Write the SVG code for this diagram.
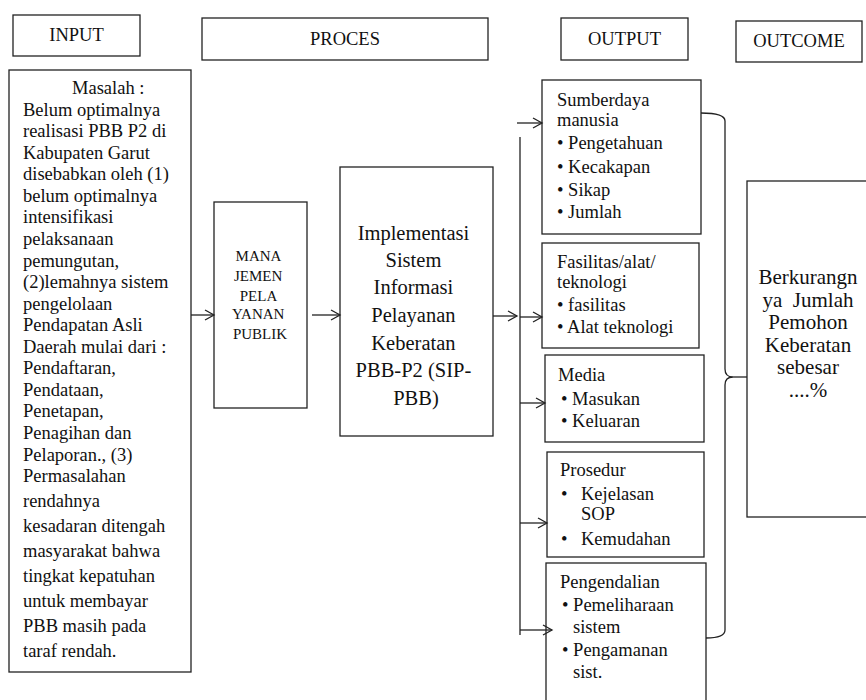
<svg xmlns="http://www.w3.org/2000/svg" width="866" height="700" viewBox="0 0 866 700">
<defs>
<style>
.box{fill:#fff;stroke:#222;stroke-width:1.3}
.t{font-family:"Liberation Serif","Times New Roman",serif;fill:#111}
.h{font-size:18.5px;text-anchor:middle}
.in{font-size:18.5px}
.mj{font-size:15px;text-anchor:middle}
.ct{font-size:20.5px;text-anchor:middle}
.o{font-size:18.5px}
.oc{font-size:21px;text-anchor:middle}
.ln{fill:none;stroke:#222;stroke-width:1.3}
</style>
<marker id="ah" markerUnits="userSpaceOnUse" markerWidth="12" markerHeight="12" refX="10" refY="6" orient="auto">
<path d="M1,1 L10,6 L1,11" fill="none" stroke="#222" stroke-width="1.3"/>
</marker>
</defs>
<rect width="866" height="700" fill="#fff"/>

<g id="hdr-input"><rect class="box" x="13" y="15" width="127" height="41"/><text class="t h" x="76.5" y="41">INPUT</text></g>
<g id="hdr-proces"><rect class="box" x="202" y="18" width="286" height="42"/><text class="t h" x="345" y="45">PROCES</text></g>
<g id="hdr-output"><rect class="box" x="561" y="18" width="127" height="42"/><text class="t h" x="624.5" y="45">OUTPUT</text></g>
<g id="hdr-outcome"><rect class="box" x="736" y="21" width="126" height="41"/><text class="t h" x="799" y="47">OUTCOME</text></g>

<g id="input">
<rect class="box" x="9" y="70" width="182" height="602"/>
<text class="t in">
<tspan x="72" y="94">Masalah :</tspan>
<tspan x="23" y="115.6">Belum optimalnya</tspan>
<tspan x="23" y="137.1">realisasi PBB P2 di</tspan>
<tspan x="23" y="158.7">Kabupaten Garut</tspan>
<tspan x="23" y="180.2">disebabkan oleh (1)</tspan>
<tspan x="23" y="201.8">belum optimalnya</tspan>
<tspan x="23" y="223.4">intensifikasi</tspan>
<tspan x="23" y="244.9">pelaksanaan</tspan>
<tspan x="23" y="266.5">pemungutan,</tspan>
<tspan x="23" y="288">(2)lemahnya sistem</tspan>
<tspan x="23" y="309.6">pengelolaan</tspan>
<tspan x="23" y="331.2">Pendapatan Asli</tspan>
<tspan x="23" y="352.7">Daerah mulai dari :</tspan>
<tspan x="23" y="374.3">Pendaftaran,</tspan>
<tspan x="23" y="395.8">Pendataan,</tspan>
<tspan x="23" y="417.4">Penetapan,</tspan>
<tspan x="23" y="439">Penagihan dan</tspan>
<tspan x="23" y="460.5">Pelaporan., (3)</tspan>
<tspan x="23" y="482">Permasalahan</tspan>
<tspan x="23" y="507">rendahnya</tspan>
<tspan x="23" y="532">kesadaran ditengah</tspan>
<tspan x="23" y="557">masyarakat bahwa</tspan>
<tspan x="23" y="582">tingkat kepatuhan</tspan>
<tspan x="23" y="607">untuk membayar</tspan>
<tspan x="23" y="632">PBB masih pada</tspan>
<tspan x="23" y="657">taraf rendah.</tspan>
</text>
</g>

<g id="manajemen">
<rect class="box" x="214" y="202" width="93" height="206"/>
<text class="t mj">
<tspan x="260" y="261">MANA</tspan>
<tspan x="260" y="281">JEMEN</tspan>
<tspan x="260" y="301">PELA</tspan>
<tspan x="260" y="319">YANAN</tspan>
<tspan x="260" y="339">PUBLIK</tspan>
</text>
</g>

<g id="implementasi">
<rect class="box" x="340" y="167" width="153" height="269"/>
<text class="t ct">
<tspan x="416" y="240">Implementasi</tspan>
<tspan x="416" y="267">Sistem</tspan>
<tspan x="416" y="294">Informasi</tspan>
<tspan x="416" y="322">Pelayanan</tspan>
<tspan x="416" y="350">Keberatan</tspan>
<tspan x="416" y="377">PBB-P2 (SIP-</tspan>
<tspan x="416" y="405">PBB)</tspan>
</text>
</g>

<g id="sdm">
<rect class="box" x="542" y="80" width="159" height="154"/>
<text class="t o">
<tspan x="557" y="106">Sumberdaya</tspan>
<tspan x="557" y="126">manusia</tspan>
<tspan x="557" y="149">• Pengetahuan</tspan>
<tspan x="557" y="173">• Kecakapan</tspan>
<tspan x="557" y="196">• Sikap</tspan>
<tspan x="557" y="218">• Jumlah</tspan>
</text>
</g>

<g id="fasilitas">
<rect class="box" x="542" y="243" width="157" height="105"/>
<text class="t o">
<tspan x="557" y="268">Fasilitas/alat/</tspan>
<tspan x="557" y="288">teknologi</tspan>
<tspan x="557" y="311">• fasilitas</tspan>
<tspan x="557" y="333">• Alat teknologi</tspan>
</text>
</g>

<g id="media">
<rect class="box" x="545" y="355" width="159" height="87"/>
<text class="t o">
<tspan x="558" y="381">Media</tspan>
<tspan x="561" y="405">• Masukan</tspan>
<tspan x="561" y="427">• Keluaran</tspan>
</text>
</g>

<g id="prosedur">
<rect class="box" x="547" y="452" width="157" height="105"/>
<text class="t o">
<tspan x="560" y="476">Prosedur</tspan>
<tspan x="561" y="500">•</tspan><tspan x="581" y="500">Kejelasan</tspan>
<tspan x="581" y="520">SOP</tspan>
<tspan x="561" y="545">•</tspan><tspan x="581" y="545">Kemudahan</tspan>
</text>
</g>

<g id="pengendalian">
<rect class="box" x="546" y="563" width="160" height="160"/>
<text class="t o">
<tspan x="560" y="588">Pengendalian</tspan>
<tspan x="562" y="611">• Pemeliharaan</tspan>
<tspan x="573" y="633">sistem</tspan>
<tspan x="562" y="656">• Pengamanan</tspan>
<tspan x="573" y="678">sist.</tspan>
</text>
</g>

<g id="outcome">
<rect class="box" x="747" y="181" width="130" height="336"/>
<text class="t oc" xml:space="preserve"><tspan x="808" y="284">Berkurangn</tspan><tspan x="808" y="306.5">ya  Jumlah</tspan><tspan x="808" y="329">Pemohon</tspan><tspan x="808" y="351.5">Keberatan</tspan><tspan x="808" y="374">sebesar</tspan><tspan x="808" y="396.5">....%</tspan></text>
</g>

<g id="connectors">
<path class="ln" d="M191,315 H214" marker-end="url(#ah)"/>
<path class="ln" d="M312,315 H340" marker-end="url(#ah)"/>
<path class="ln" d="M493,316 H517" marker-end="url(#ah)"/>
<path class="ln" d="M520,137 V635"/>
<path class="ln" d="M517,123 H542" marker-end="url(#ah)"/>
<path class="ln" d="M520,317 H542" marker-end="url(#ah)"/>
<path class="ln" d="M520,403 H545" marker-end="url(#ah)"/>
<path class="ln" d="M520,523 H547" marker-end="url(#ah)"/>
<path class="ln" d="M520,630 H552" marker-end="url(#ah)"/>
<path class="ln" d="M701,113 Q725,113 725,121 V369 Q725,377 733,377 Q725,377 725,385 V630 Q725,638 706,638"/>
<path class="ln" d="M733,377 H747"/>
</g>
</svg>
